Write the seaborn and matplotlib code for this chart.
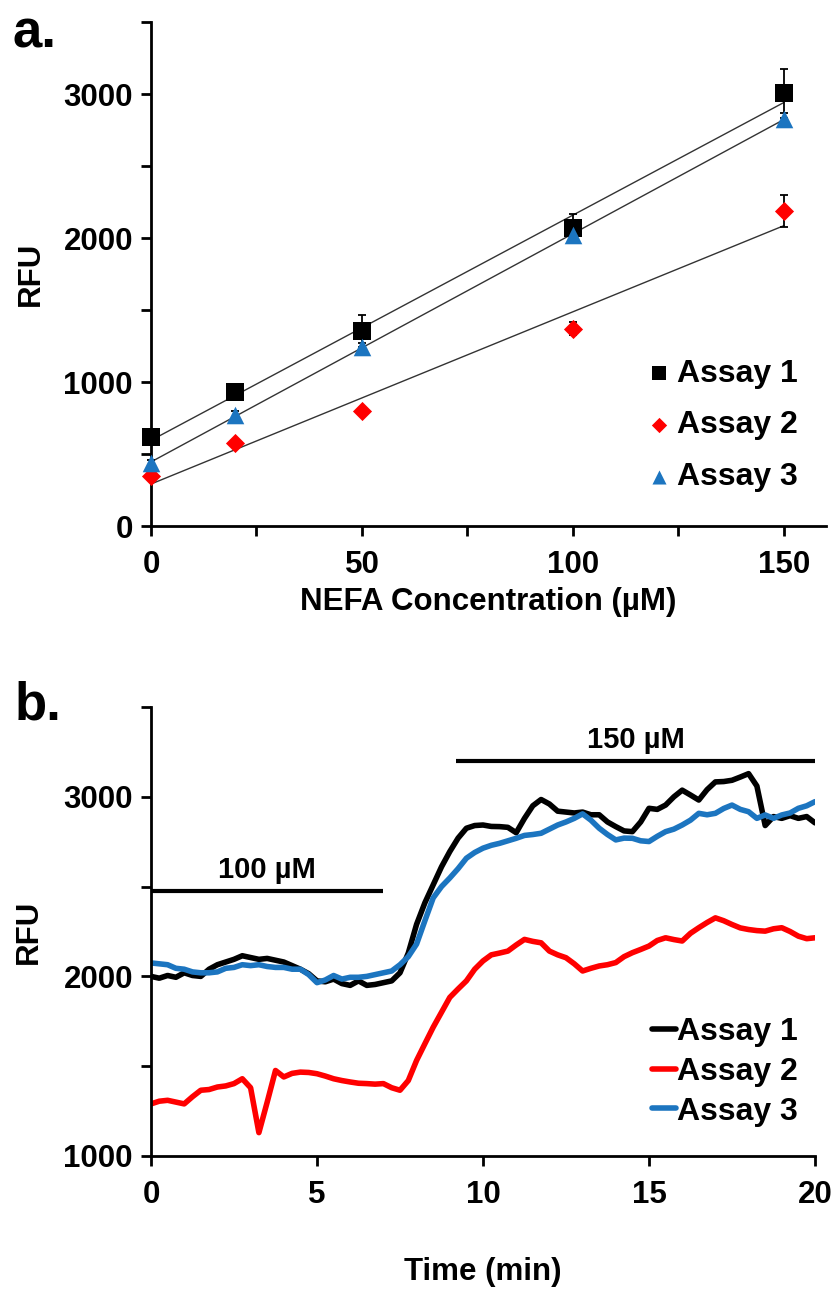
import numpy as np
import pandas as pd
import matplotlib.pyplot as plt
import seaborn as sns
from matplotlib.ticker import MultipleLocator, FuncFormatter

# Panel a: calibration points (NEFA concentration vs RFU)
conc = [0, 20, 50, 100, 150]
assay1_rfu = [620, 930, 1355, 2070, 3005]
assay2_rfu = [350, 578, 800, 1370, 2188]
assay3_rfu = [437, 771, 1243, 2021, 2826]
assay1_err = [30, 30, 110, 100, 170]
assay2_err = [20, 20, 20, 45, 110]
assay3_err = [20, 25, 30, 40, 40]

# Panel b: kinetic traces, read every 0.25 min
time_min = [i * 0.25 for i in range(81)]
trace1 = [2000, 1990, 2005, 1995, 2020, 2005, 2000, 2040, 2065, 2080,
          2095, 2115, 2105, 2095, 2100, 2090, 2080, 2060, 2040, 2015,
          1975, 1970, 1985, 1960, 1950, 1975, 1950, 1955, 1965, 1975,
          2020, 2130, 2290, 2410, 2510, 2610, 2695, 2770, 2825, 2840,
          2843, 2835, 2834, 2830, 2800, 2880, 2950, 2985, 2960, 2920,
          2915, 2910, 2915, 2900, 2900, 2860, 2834, 2810, 2806, 2860,
          2936, 2930, 2954, 3000, 3037, 3010, 2982, 3040, 3083, 3085,
          3092, 3110, 3129, 3060, 2840, 2890, 2880, 2895, 2880, 2890,
          2855]
trace2 = [1290, 1305, 1310, 1300, 1290, 1330, 1366, 1370, 1384, 1390,
          1403, 1430, 1380, 1130, 1300, 1476, 1440, 1460, 1467, 1465,
          1458, 1445, 1430, 1420, 1412, 1405, 1403, 1400, 1403, 1380,
          1366, 1420, 1532, 1625, 1717, 1800, 1883, 1930, 1975, 2040,
          2086, 2120, 2130, 2141, 2175, 2206, 2195, 2187, 2141, 2120,
          2104, 2070, 2030, 2045, 2058, 2065, 2077, 2110, 2132, 2150,
          2169, 2200, 2215, 2205, 2197, 2240, 2271, 2300, 2326, 2310,
          2289, 2270, 2261, 2255, 2252, 2265, 2271, 2250, 2224, 2210,
          2215]
trace3 = [2075, 2070, 2065, 2045, 2040, 2025, 2020, 2020, 2025, 2045,
          2050, 2065, 2060, 2065, 2055, 2050, 2050, 2040, 2040, 2010,
          1965, 1980, 2005, 1985, 1995, 1995, 2000, 2010, 2020, 2030,
          2065, 2110, 2180, 2310, 2437, 2500, 2548, 2600, 2658, 2690,
          2714, 2730, 2741, 2755, 2769, 2785, 2790, 2797, 2820, 2843,
          2860, 2880, 2905, 2870, 2825, 2790, 2760, 2770, 2769, 2755,
          2751, 2780, 2806, 2820, 2843, 2870, 2908, 2900, 2908, 2935,
          2954, 2930, 2917, 2880, 2899, 2880, 2899, 2910, 2936, 2950,
          2973]

# treatment windows shown as bars above the traces
windows = [("100 µM", 0, 7.0, 2475), ("150 µM", 9.2, 20, 3200)]

assays = ["Assay 1", "Assay 2", "Assay 3"]
colors = ["black", "#FF0000", "#1C75C0"]

sns.set_style("ticks")
plt.rcParams["font.family"] = ["Liberation Sans", "DejaVu Sans"]
plt.rcParams["font.weight"] = "bold"
plt.rcParams["axes.labelweight"] = "bold"
for key in ["text.color", "axes.labelcolor", "xtick.color", "ytick.color"]:
    plt.rcParams[key] = "black"

fig = plt.figure(figsize=(8.37, 12.89), dpi=100)

def style_axis(ax):
    sns.despine(ax=ax)
    for s in ["left", "bottom"]:
        ax.spines[s].set_linewidth(2)
        ax.spines[s].set_color("black")
    ax.tick_params(width=2, length=7, labelsize=22.5, colors="black", pad=6)
    ax.tick_params(axis="x", pad=10)

thousands = FuncFormatter(lambda v, p: f"{v:.0f}" if v % 1000 == 0 else "")

# ---- panel a ----
ax1 = fig.add_axes([0.1804, 0.5919, 0.8065, 0.391])
series = [
    (assay1_rfu, assay1_err, "s", 170),
    (assay2_rfu, assay2_err, "D", 95),
    (assay3_rfu, assay3_err, "^", 160),
]
for name, color, (y, err, marker, size) in zip(assays, colors, series):
    ax1.errorbar(conc, y, yerr=err, fmt="none", ecolor="black",
                 elinewidth=1.3, capsize=3, capthick=1.3, zorder=2, clip_on=False)
    sns.regplot(x=conc, y=y, ax=ax1, scatter=False, ci=None,
                line_kws={"color": "#333333", "lw": 1.0, "zorder": 1})
    sns.scatterplot(x=conc, y=y, ax=ax1, marker=marker, color=color,
                    s=size, linewidth=0, label=name, zorder=3, clip_on=False)

ax1.set_xlim(0, 160)
ax1.set_ylim(0, 3500)
ax1.xaxis.set_major_locator(MultipleLocator(25))
ax1.xaxis.set_major_formatter(FuncFormatter(lambda v, p: f"{v:.0f}" if v % 50 == 0 else ""))
ax1.yaxis.set_major_locator(MultipleLocator(500))
ax1.yaxis.set_major_formatter(thousands)
style_axis(ax1)
ax1.set_xlabel("NEFA Concentration (µM)", fontsize=22.5, fontweight="bold")
ax1.set_ylabel("RFU", fontsize=22.5, fontweight="bold")
ax1.yaxis.set_label_coords(-0.155, 0.5)
ax1.xaxis.set_label_coords(0.5, -0.12)
ax1.legend(loc="center left", bbox_to_anchor=(0.715, 0.2), frameon=False,
           fontsize=23, markerscale=0.8, handlelength=0.6, handletextpad=0.25,
           labelspacing=0.68, borderpad=0)

# ---- panel b ----
ax2 = fig.add_axes([0.1804, 0.1032, 0.7933, 0.3483])
traces = pd.DataFrame({
    "Time": time_min * 3,
    "RFU": trace1 + trace2 + trace3,
    "Assay": [a for a in assays for _ in time_min],
})
sns.lineplot(data=traces, x="Time", y="RFU", hue="Assay", palette=colors,
             lw=4, ax=ax2)
for label, x0, x1, level in windows:
    ax2.hlines(level, x0, x1, color="black", lw=3)
    ax2.text((x0 + x1) / 2, level + 40, label, ha="center", va="bottom",
             fontsize=21, fontweight="bold")

ax2.set_xlim(0, 20)
ax2.set_ylim(1000, 3500)
ax2.xaxis.set_major_locator(MultipleLocator(5))
ax2.yaxis.set_major_locator(MultipleLocator(500))
ax2.yaxis.set_major_formatter(thousands)
style_axis(ax2)
ax2.set_xlabel("Time (min)", fontsize=22.5, fontweight="bold")
ax2.set_ylabel("RFU", fontsize=22.5, fontweight="bold")
ax2.yaxis.set_label_coords(-0.162, 0.5)
ax2.xaxis.set_label_coords(0.5, -0.225)
ax2.legend(loc="center left", bbox_to_anchor=(0.73, 0.187), frameon=False,
           fontsize=23, handlelength=0.75, handletextpad=0.05,
           labelspacing=0.3, borderpad=0)

fig.text(13 / 837, 1 - 47 / 1289, "a.", fontsize=38, fontweight="bold", va="baseline")
fig.text(15 / 837, 1 - 720 / 1289, "b.", fontsize=38, fontweight="bold", va="baseline")

plt.savefig("out.png", dpi=100)
